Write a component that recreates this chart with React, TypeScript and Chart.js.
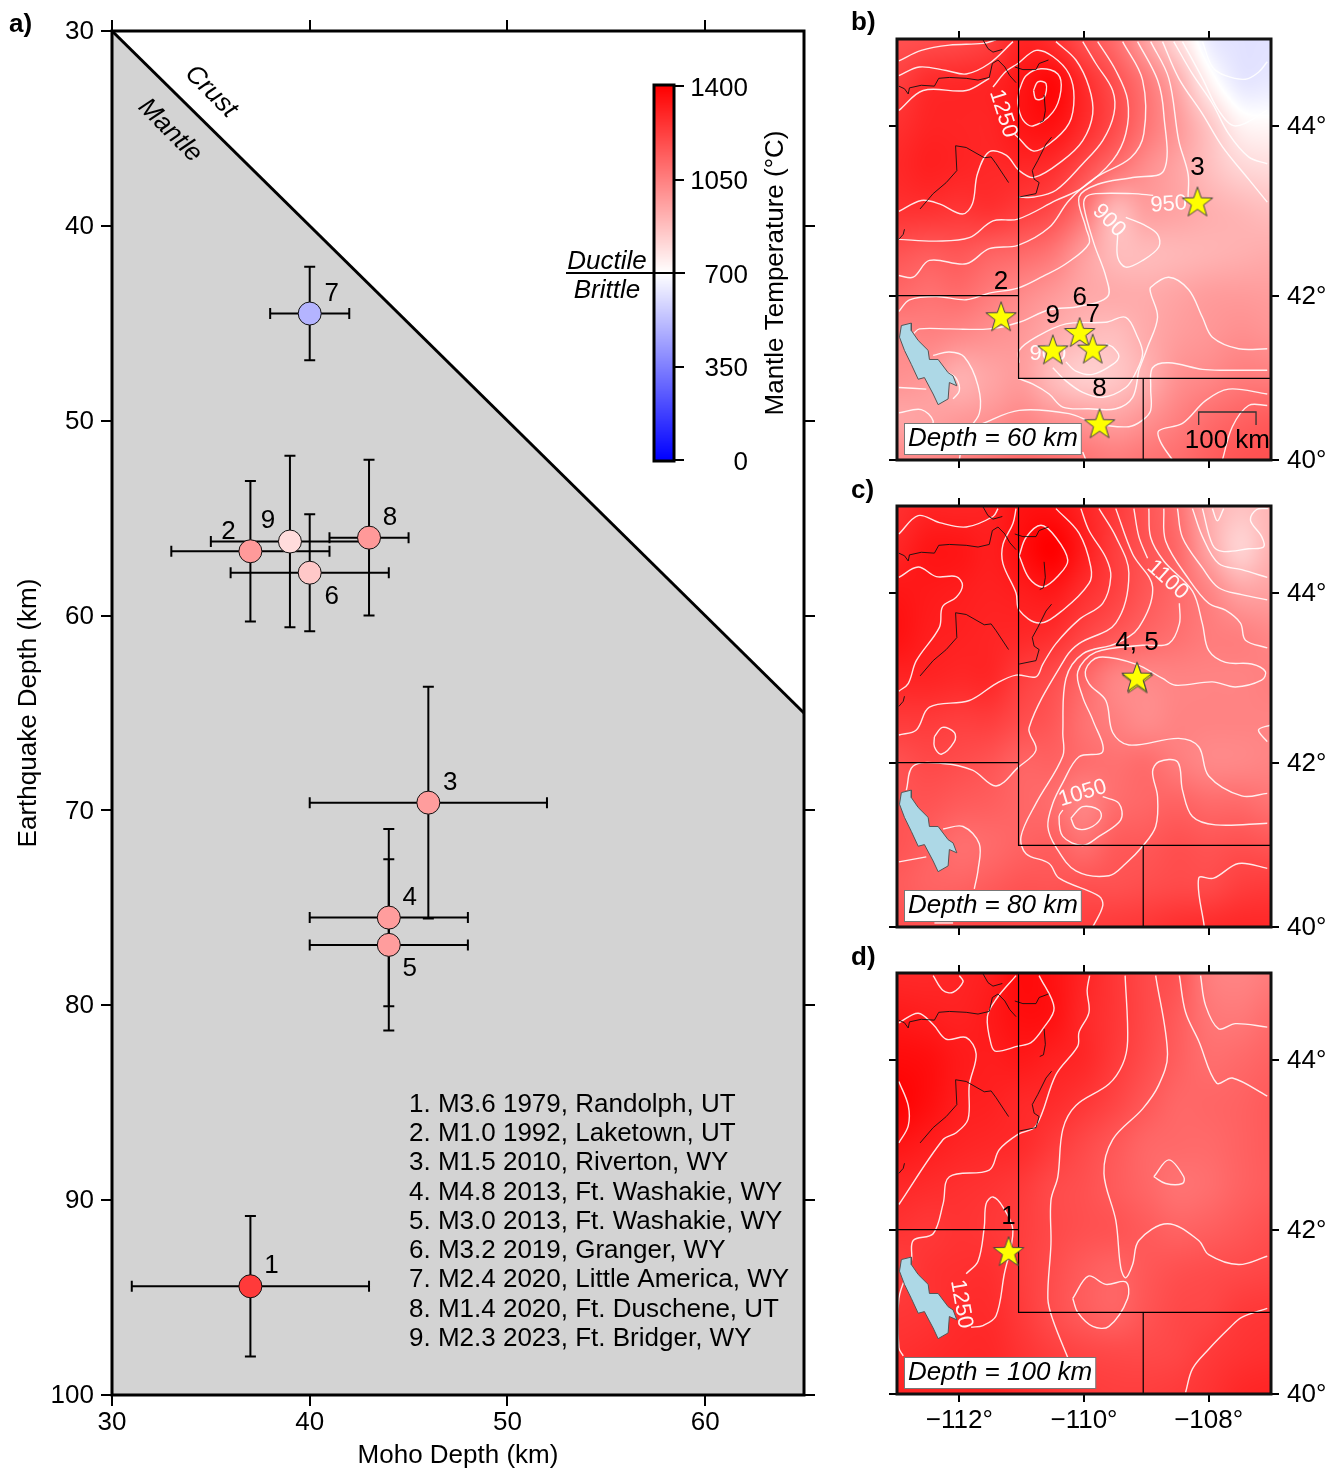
import React, { useEffect, useRef } from 'react';
import { Chart, registerables, LinearScale } from 'chart.js';

Chart.register(...registerables);
const FONT = '"Liberation Sans", Arial, sans-serif';
Chart.defaults.font.family = FONT;
Chart.defaults.color = '#000';
const FS = 26;

// ---------- Panel a data ----------
const eventIds = ['1', '2', '3', '4', '5', '6', '7', '8', '9'];
const mohoDepth = [37, 37, 46, 44, 44, 40, 40, 43, 39];
const quakeDepth = [94.42, 56.7, 69.6, 75.5, 76.9, 57.8, 44.5, 56, 56.2];
const mohoErr = [6, 4, 6, 4, 4, 4, 2, 2, 4];
const quakeErr = [3.6, 3.6, 5.95, 4.55, 4.4, 3, 2.4, 4, 4.4];
const mantleTemp = [1240, 977, 970, 970, 970, 851, 494, 980, 796];
const labelOffX = [21, -22, 22, 21, 21, 22, 22, 21, -22];
const labelOffY = [-22, -21, -21, -21, 22, 23, -21, -21, -22];
const eventList = [
  '1. M3.6 1979, Randolph, UT',
  '2. M1.0 1992, Laketown, UT',
  '3. M1.5 2010, Riverton, WY',
  '4. M4.8 2013, Ft. Washakie, WY',
  '5. M3.0 2013, Ft. Washakie, WY',
  '6. M3.2 2019, Granger, WY',
  '7. M2.4 2020, Little America, WY',
  '8. M1.4 2020, Ft. Duschene, UT',
  '9. M2.3 2023, Ft. Bridger, WY',
];
const mohoX = [30, 65];
const mohoY = [30, 65];
const cbTicks = [0, 350, 700, 1050, 1400];

// ---------- Map temperature grids (deg C), lat 45..40 (rows), lon -113..-107 (cols), 0.5 deg ----------
const heat60 = [
  [1180, 1190, 1200, 1230, 1300, 1270, 1180, 1100, 950, 800, 650, 620, 620],
  [1230, 1280, 1290, 1300, 1340, 1375, 1280, 1180, 1070, 930, 740, 640, 640],
  [1270, 1300, 1300, 1300, 1340, 1350, 1280, 1190, 1080, 980, 860, 740, 720],
  [1290, 1310, 1300, 1290, 1290, 1270, 1190, 1090, 1010, 950, 880, 820, 800],
  [1260, 1260, 1250, 1260, 1230, 1190, 1080, 900, 960, 950, 920, 900, 880],
  [1170, 1150, 1160, 1130, 1110, 1070, 970, 890, 890, 900, 910, 920, 930],
  [1110, 1090, 1100, 1060, 1020, 980, 940, 930, 930, 950, 970, 975, 970],
  [1030, 1040, 1020, 1000, 980, 930, 890, 880, 930, 970, 990, 1010, 1000],
  [1000, 980, 920, 950, 970, 890, 840, 860, 920, 1000, 1030, 1060, 1060],
  [950, 960, 980, 1000, 1030, 1000, 980, 960, 1000, 1050, 1100, 1130, 1150],
  [1020, 1030, 1050, 1080, 1110, 1100, 1080, 1060, 1080, 1100, 1140, 1170, 1180],
];
const heat80 = [
  [1270, 1300, 1300, 1310, 1350, 1350, 1300, 1240, 1170, 1090, 930, 870, 900],
  [1300, 1340, 1340, 1320, 1360, 1400, 1320, 1230, 1170, 1110, 950, 830, 910],
  [1340, 1330, 1320, 1310, 1320, 1330, 1270, 1220, 1160, 1110, 1040, 960, 960],
  [1350, 1320, 1310, 1300, 1290, 1270, 1210, 1160, 1120, 1090, 1060, 1050, 1030],
  [1300, 1300, 1290, 1290, 1230, 1190, 1120, 1040, 1030, 1040, 1040, 1040, 1050],
  [1240, 1240, 1230, 1230, 1190, 1160, 1090, 1050, 1020, 1040, 1040, 1040, 1040],
  [1180, 1200, 1190, 1170, 1130, 1130, 1100, 1090, 1100, 1060, 1030, 1030, 1040],
  [1170, 1170, 1150, 1140, 1120, 1100, 1040, 1100, 1120, 1130, 1110, 1110, 1090],
  [1170, 1140, 1100, 1110, 1130, 1140, 1100, 1150, 1160, 1180, 1170, 1180, 1170],
  [1150, 1130, 1130, 1150, 1170, 1170, 1180, 1180, 1190, 1200, 1200, 1230, 1240],
  [1180, 1180, 1200, 1210, 1210, 1220, 1230, 1240, 1250, 1270, 1280, 1290, 1290],
];
const heat100 = [
  [1290, 1290, 1300, 1320, 1370, 1350, 1300, 1250, 1200, 1170, 1060, 1040, 1060],
  [1330, 1320, 1310, 1330, 1360, 1350, 1290, 1250, 1200, 1150, 1080, 1070, 1100],
  [1370, 1360, 1330, 1320, 1330, 1310, 1290, 1240, 1190, 1140, 1100, 1110, 1130],
  [1390, 1360, 1320, 1310, 1290, 1280, 1250, 1210, 1160, 1120, 1120, 1130, 1150],
  [1340, 1320, 1300, 1290, 1280, 1240, 1200, 1160, 1120, 1110, 1110, 1130, 1150],
  [1290, 1280, 1270, 1260, 1240, 1200, 1180, 1150, 1120, 1090, 1100, 1130, 1150],
  [1260, 1250, 1260, 1250, 1230, 1200, 1180, 1170, 1150, 1130, 1140, 1160, 1180],
  [1230, 1260, 1270, 1270, 1230, 1190, 1150, 1130, 1160, 1180, 1190, 1200, 1210],
  [1250, 1260, 1280, 1280, 1240, 1190, 1150, 1130, 1170, 1200, 1210, 1240, 1250],
  [1270, 1280, 1290, 1290, 1260, 1230, 1210, 1200, 1200, 1210, 1240, 1260, 1270],
  [1300, 1300, 1300, 1300, 1280, 1260, 1240, 1230, 1230, 1240, 1260, 1290, 1300],
];

// ---------- Contours, [lon, lat] ----------
const contours60 = [
  [[-112.97,44.75],[-112.61,44.87],[-112.16,44.93],[-111.62,44.95],[-111.41,44.99]],
  [[-112.97,44.58],[-112.64,44.68],[-112.21,44.64],[-111.89,44.60],[-111.52,44.72],[-111.14,44.97]],
  [[-112.97,44.18],[-112.58,44.41],[-111.89,44.41],[-111.52,44.55]],
  [[-110.81,44.41],[-110.74,44.51],[-110.61,44.49],[-110.64,44.33],[-110.77,44.31],[-110.81,44.41]],
  [[-111.04,44.41],[-110.93,44.58],[-110.69,44.66],[-110.42,44.60],[-110.37,44.41],[-110.50,44.16],[-110.82,44],[-110.98,44.07],[-111.06,44.26],[-111.04,44.41]],
  [[-111.46,44.45],[-111.25,44.63],[-111.06,44.72],[-110.77,44.87],[-110.50,44.80],[-110.24,44.60],[-110.16,44.33],[-110.24,44.03],[-110.56,43.79],[-110.82,43.71],[-111.06,43.87],[-111.11,43.90]],
  [[-110.45,44.97],[-110.13,44.76],[-109.92,44.45],[-109.86,44.14],[-110.02,43.83],[-110.34,43.60],[-110.80,43.40],[-111.04,43.48],[-111.25,43.66],[-111.52,43.70],[-111.71,43.44],[-111.79,43.09],[-111.95,42.97],[-112.32,43.09],[-112.61,43.13],[-112.97,43.0]],
  [[-110.02,44.97],[-109.81,44.72],[-109.54,44.41],[-109.52,44.14],[-109.70,43.83],[-110.02,43.56],[-110.45,43.25],[-110.80,43.17],[-111.06,43.17]],
  [[-109.78,44.97],[-109.49,44.64],[-109.30,44.30],[-109.33,43.91],[-109.54,43.60],[-110.02,43.28],[-110.45,43.13],[-111.06,42.91],[-111.46,42.89],[-111.84,42.69],[-112.37,42.65],[-112.97,42.67]],
  [[-109.38,44.97],[-109.06,44.53],[-109.04,43.91],[-109.25,43.63],[-109.81,43.40],[-110.24,43.13],[-110.56,42.81],[-111.06,42.60],[-111.52,42.56],[-111.89,42.38],[-112.48,42.42],[-112.74,42.22],[-112.97,42.24]],
  [[-109.14,44.97],[-108.82,44.53],[-108.72,44.14],[-108.72,43.48],[-109.22,43.40],[-109.78,43.32],[-110.08,43.17],[-109.97,42.81],[-109.92,42.62],[-110.29,42.38],[-110.66,42.23],[-111.06,42.09],[-111.52,42.03],[-111.89,41.95],[-112.37,41.99],[-112.80,41.95],[-112.97,41.81]],
  [[-108.93,44.97],[-108.64,44.55],[-108.48,43.83],[-108.33,43.44],[-108.33,43.17]],
  [[-108.89,43.19],[-109.22,43.21],[-109.81,43.21],[-109.97,43.17],[-110.0,43.05],[-109.84,42.62],[-109.65,42.23],[-109.62,41.99],[-110.08,41.87],[-110.56,41.83],[-111.04,41.68],[-111.52,41.60],[-112.16,41.60],[-112.64,41.60],[-112.74,41.54]],
  [[-109.46,42.73],[-109.46,42.46],[-109.33,42.34],[-109.06,42.42],[-108.80,42.58],[-108.82,42.73],[-109.06,42.85],[-109.33,42.93]],
  [[-108.74,44.97],[-108.48,44.55],[-108.10,44.14],[-107.78,43.76],[-107.36,43.38],[-107.06,43.11]],
  [[-108.56,44.97],[-108.26,44.6],[-107.94,44.26],[-107.68,43.91],[-107.36,43.64],[-107.06,43.56]],
  [[-108.42,44.97],[-108.10,44.55],[-107.84,44.18],[-107.57,44.0],[-107.06,44.18]],
  [[-108.10,44.97],[-107.94,44.68],[-107.73,44.58],[-107.41,44.54],[-107.2,44.62],[-107.06,44.74]],
  [[-109.12,41.1],[-108.98,41.38],[-108.82,41.74],[-108.93,42.03],[-108.93,42.1],[-108.64,42.22],[-108.32,42.07],[-108.10,41.74],[-107.94,41.5],[-107.52,41.36],[-107.06,41.36]],
  [[-111.06,41.0],[-110.82,40.93],[-110.56,40.81],[-110.34,40.65],[-109.92,40.63],[-109.49,40.63],[-109.22,40.77],[-109.12,41.1]],
  [[-107.06,41.1],[-107.73,41.1],[-108.10,41.11],[-108.64,41.19],[-108.9,41.13],[-108.93,40.89],[-108.93,40.61],[-109.06,40.49],[-109.28,40.41],[-109.81,40.45],[-110.24,40.57],[-111.04,40.61],[-111.62,40.45],[-111.84,40.37],[-111.94,40.25],[-112.0,40.0]],
  [[-110.5,41.13],[-110.29,40.97],[-110.02,40.83],[-109.70,40.77],[-109.33,40.89],[-109.17,41.07],[-109.06,41.3],[-109.14,41.5],[-109.33,41.74],[-109.65,41.68],[-110.29,41.66],[-110.77,41.5],[-111.04,41.34],[-111.04,41.19]],
  [[-110.29,41.2],[-110.13,41.09],[-109.86,41.05],[-109.54,41.17],[-109.44,41.27],[-109.54,41.38],[-109.65,41.42]],
  [[-108.58,40.0],[-108.77,40.22],[-108.8,40.36],[-108.42,40.45],[-108.05,40.73],[-107.68,40.87],[-107.06,40.81]],
  [[-107.78,40.0],[-107.62,40.41],[-107.36,40.67],[-107.06,40.67]],
  [[-112.42,41.28],[-112.16,41.32],[-111.92,41.26],[-111.70,40.91],[-111.68,40.57],[-111.92,40.33]],
  [[-112.18,41.07],[-112.05,41],[-112,40.85],[-112.1,40.75]],
  [[-112.97,40.89],[-112.53,40.87]],
  [[-112.97,40.58],[-112.61,40.62],[-112.42,40.48],[-112.5,40.36]],
  [[-110.02,40.1],[-109.97,40.0]],
];
const contours80 = [
  [[-112.97,44.68],[-112.66,44.89],[-112.32,44.81],[-111.89,44.76],[-111.46,44.88],[-111.38,44.97]],
  [[-112.97,44.18],[-112.66,44.3],[-112.37,44.19],[-112.05,44.19],[-111.95,44.09],[-112.05,43.95],[-112.27,43.84],[-112.32,43.6],[-112.69,43.21],[-112.82,42.94],[-112.97,42.85]],
  [[-111.09,44.97],[-111.14,44.8],[-111.3,44.56],[-111.3,44.34],[-111.09,44.0],[-111.04,43.8],[-110.72,43.65],[-110.34,43.8],[-109.92,44.11],[-109.89,44.3],[-110.08,44.69],[-110.45,44.97]],
  [[-111.04,44.43],[-110.93,44.64],[-110.69,44.78],[-110.45,44.64],[-110.26,44.38],[-110.4,44.21],[-110.66,44.07],[-110.88,44.17],[-111.04,44.43]],
  [[-110.05,44.97],[-109.92,44.72],[-109.65,44.41],[-109.57,44.19],[-109.7,43.88],[-110.08,43.69],[-110.45,43.41],[-110.66,43.17],[-110.77,43.02],[-111.09,43.04],[-111.41,42.94],[-111.84,42.74],[-112.48,42.66],[-112.69,42.39],[-112.97,42.33]],
  [[-109.76,44.97],[-109.49,44.65],[-109.28,44.23],[-109.49,43.65],[-110.08,43.41],[-110.29,43.25],[-110.88,42.42],[-110.77,42.15],[-111.06,41.94],[-111.41,41.72],[-111.79,41.91],[-112.27,41.99],[-112.74,41.96],[-112.85,41.67]],
  [[-109.49,44.97],[-109.22,44.45],[-108.9,44.07],[-109.12,43.6],[-109.49,43.41],[-110.02,43.29],[-110.29,43.0],[-110.34,42.36],[-110.34,42.08],[-110.77,41.51],[-111.01,41.11],[-110.93,40.9],[-110.56,40.78],[-110.4,40.6],[-109.76,40.38],[-109.7,40.26],[-109.86,40.0]],
  [[-109.2,44.97],[-109.12,44.65],[-108.98,44.4]],
  [[-108.47,43.88],[-108.47,43.64],[-108.64,43.41],[-109.06,43.39],[-109.81,43.31],[-110.1,43.08],[-110.02,42.78],[-109.86,42.51],[-109.7,42.13],[-110.08,42.07],[-110.34,41.76],[-110.5,41.51],[-110.58,41.23],[-110.45,40.98],[-110.13,40.69],[-109.6,40.63],[-109.33,40.78],[-109.06,40.99],[-108.85,41.23],[-108.82,41.59],[-108.9,41.89],[-108.8,42.01],[-108.5,42.01],[-108.42,41.67],[-108.26,41.35],[-107.89,41.25],[-107.06,41.27]],
  [[-109.7,41.59],[-109.44,41.51],[-109.41,41.31],[-109.76,41.11],[-110.02,41.0],[-110.34,41.11],[-110.4,41.35],[-110.34,41.43]],
  [[-110.21,41.33],[-110.02,41.47],[-109.76,41.43],[-109.73,41.33],[-109.92,41.21],[-110.13,41.21],[-110.21,41.33]],
  [[-108.96,44.97],[-108.93,44.64],[-108.72,44.37],[-108.26,44.02],[-108.1,43.64],[-108.0,43.33],[-107.73,43.19],[-107.31,43.17],[-107.09,43.08],[-107.15,42.98],[-107.57,42.9],[-107.94,42.96],[-108.53,42.92],[-108.74,43.0],[-109.17,43.17],[-109.76,43.25],[-109.97,43.11],[-109.92,42.94],[-109.65,42.74],[-109.54,42.36],[-109.28,42.21],[-108.48,42.29],[-108.16,42.19],[-108,41.84],[-107.47,41.6],[-107.06,41.63]],
  [[-108.72,44.97],[-108.69,44.6],[-108.32,44.16],[-108,43.88],[-107.73,43.8],[-107.49,43.65],[-107.41,43.45],[-107.06,43.36]],
  [[-108.5,44.97],[-108.42,44.64],[-108.1,44.29],[-107.84,44.06],[-107.47,43.98],[-107.06,43.92]],
  [[-108.26,44.97],[-108.1,44.65],[-107.84,44.34],[-107.47,44.27],[-107.06,44.18]],
  [[-108.1,44.97],[-107.94,44.56],[-107.78,44.48],[-107.36,44.51],[-107.12,44.53],[-107.15,44.65],[-107.33,44.84],[-107.23,44.96],[-107.05,44.97]],
  [[-107.94,44.97],[-107.86,44.83],[-107.76,44.97]],
  [[-107.0,42.45],[-107.2,42.39],[-107.06,42.25]],
  [[-112.4,42.31],[-112.27,42.42],[-112.08,42.36],[-112.08,42.25],[-112.29,42.1],[-112.4,42.19],[-112.4,42.31]],
  [[-112.26,41.2],[-111.94,41.23],[-111.68,41.02],[-111.7,40.7],[-111.76,40.47]],
  [[-112.97,40.8],[-112.53,40.86]],
  [[-112.4,40.05],[-112.1,40.05]],
  [[-108.07,40.0],[-108.16,40.6],[-107.92,40.6],[-107.52,40.78],[-107.06,40.72]],
];
const contours100 = [
  [[-112.42,44.97],[-112.26,44.8],[-112.1,44.78],[-111.94,44.9],[-112,44.97]],
  [[-111.09,44.97],[-111.41,44.7],[-111.55,44.5],[-111.49,44.18],[-111.41,44.1],[-111.06,44.16],[-110.85,44.2],[-110.66,44.36],[-110.48,44.6],[-110.72,44.97]],
  [[-112.97,44.43],[-112.66,44.54],[-112.42,44.41],[-112.21,44.24],[-111.89,44.26],[-111.73,44.07],[-111.84,43.71],[-111.86,43.31],[-112.05,43.15],[-112.26,43.07],[-112.97,42.3]],
  [[-112.97,43.75],[-112.82,43.47],[-112.82,43.23],[-112.97,43.03]],
  [[-109.91,44.97],[-109.95,44.8],[-109.92,44.55],[-110.08,44.32],[-110.1,44.16],[-110.45,43.83],[-110.77,43.23],[-111.06,43.13],[-111.36,42.95],[-111.52,42.71],[-112.16,42.63],[-112.26,42.31],[-112.42,41.95],[-112.74,41.87],[-112.77,41.62],[-112.97,41.17],[-112.97,40.57],[-112.9,40.47]],
  [[-109.34,44.97],[-109.3,44.22],[-109.38,43.95],[-109.6,43.72],[-110.13,43.47],[-110.34,43.19],[-110.42,42.63],[-110.53,42.35],[-110.53,41.83],[-110.58,41.17],[-110.5,40.91],[-110.24,40.41]],
  [[-108.85,44.97],[-108.66,44.07],[-108.8,43.71],[-109.06,43.43],[-109.54,43.07],[-109.68,42.67],[-109.49,42.11],[-109.41,41.54],[-109.33,41.42],[-109.22,41.58],[-109.12,41.87],[-108.66,42.07],[-108.16,41.87],[-108,41.7],[-107.52,41.58],[-107.06,41.68]],
  [[-108.47,44.97],[-108.37,44.55],[-108.16,44.22],[-107.87,43.73],[-107.62,43.79],[-107.06,43.58]],
  [[-108.13,44.97],[-108.05,44.63],[-107.84,44.36],[-107.57,44.42],[-107.06,44.38]],
  [[-108.88,42.63],[-108.64,42.83],[-108.4,42.63],[-108.42,42.55],[-108.69,42.55],[-108.88,42.63]],
  [[-110.18,41.17],[-109.93,41.44],[-109.65,41.34],[-109.33,41.37],[-109.3,41.17],[-109.6,40.83],[-109.86,40.83],[-110.1,41.0],[-110.18,41.17]],
  [[-111.89,41.47],[-111.7,41.62],[-111.6,42.03],[-111.57,42.31],[-111.46,42.39],[-111.3,42.27],[-111.14,41.99],[-111.28,41.46],[-111.41,40.96],[-111.62,40.84],[-111.81,40.82]],
  [[-108.37,40.02],[-108.26,40.31],[-108,40.55],[-107.68,40.8],[-107.47,40.94],[-107.06,41.05]],
];

// ---------- Shared map features ----------
const stateLines = [
  [[-111.05,45],[-111.05,41],[-107,41]],
  [[-113,42],[-111.05,42]],
  [[-109.05,41],[-109.05,40]],
];
const rivers = [
  [[-111.62,44.99],[-111.54,44.89],[-111.46,44.85],[-111.31,44.88]],
  [[-112.97,44.46],[-112.88,44.43],[-112.82,44.37],[-112.8,44.44],[-112.61,44.47],[-112.4,44.46],[-112.33,44.55],[-112.16,44.56],[-111.89,44.55],[-111.7,44.53],[-111.52,44.56],[-111.47,44.72],[-111.38,44.76],[-111.27,44.68],[-111.19,44.58],[-111.09,44.5]],
  [[-111.11,44.68],[-110.98,44.65],[-110.77,44.65],[-110.72,44.72],[-110.57,44.76]],
  [[-110.64,44.36],[-110.62,44.18],[-110.65,44.06],[-110.71,44.04]],
  [[-110.52,43.87],[-110.61,43.79],[-110.74,43.6],[-110.83,43.48],[-110.8,43.38],[-110.72,43.34],[-110.77,43.21],[-111.04,43.17]],
  [[-111.21,43.34],[-111.41,43.56],[-111.49,43.64],[-111.6,43.63],[-111.89,43.75],[-112.06,43.77],[-112.04,43.48],[-112.21,43.34],[-112.42,43.21],[-112.63,43.03]],
  [[-112.88,42.79],[-112.9,42.73],[-112.97,42.67]],
];
const lake = [[-112.93,41.64],[-112.77,41.67],[-112.77,41.58],[-112.66,41.46],[-112.5,41.34],[-112.48,41.23],[-112.34,41.23],[-112.18,41.07],[-112.1,41.03],[-112.04,40.91],[-112.16,40.95],[-112.18,40.75],[-112.34,40.68],[-112.42,40.81],[-112.56,41.01],[-112.66,40.99],[-112.77,41.17],[-112.88,41.34],[-112.96,41.5],[-112.93,41.64]];

const stars60 = [[-108.18,43.106,'3'],[-111.33,41.74,'2'],[-110.5,41.34,'9'],[-110.07,41.55,'6'],[-109.86,41.35,'7'],[-109.75,40.44,'8']];
const stars80 = [[-109.14,42.99,''],[-109.15,43.01,'4, 5']];
const stars100 = [[-111.21,41.73,'1']];
const labels60 = [[-111.30,44.16,'1250',72],[-108.64,43.10,'950',-4],[-109.6,42.91,'900',45],[-110.58,41.31,'900',0]];
const labels80 = [[-108.66,44.17,'1100',42],[-110.02,41.65,'1050',-17]];
const labels100 = [[-111.97,41.12,'1250',80]];
const lonTicks = [-112, -110, -108];
const latTicks = [40, 42, 44];

// ---------- Helpers ----------
function tempColor(t: number) {
  const c = Math.max(0, Math.min(1400, t));
  if (c >= 700) { const g = 255 * (1400 - c) / 700; return [255, g, g]; }
  const g = 255 * c / 700; return [g, g, 255];
}
const cssTemp = (t: number) => { const [r, g, b] = tempColor(t); return `rgb(${r},${g},${b})`; };
const merc = (lat: number) => Math.log(Math.tan(Math.PI / 4 + (lat * Math.PI) / 360));
const imerc = (m: number) => ((Math.atan(Math.exp(m)) - Math.PI / 4) * 360) / Math.PI;

class MercatorScale extends (LinearScale as any) {
  static id = 'mercator';
  static defaults = LinearScale.defaults;
  getPixelForValue(v: number) {
    const a = merc(this.min), b = merc(this.max);
    return this.bottom + ((this.top - this.bottom) * (merc(v) - a)) / (b - a);
  }
  getValueForPixel(p: number) {
    const a = merc(this.min), b = merc(this.max);
    return imerc(a + ((b - a) * (p - this.bottom)) / (this.top - this.bottom));
  }
}
Chart.register(MercatorScale as any);

function txt(ctx: any, s: string, x: number, y: number, o: any = {}) {
  ctx.save();
  ctx.font = `${o.style || ''} ${o.size || FS}px ${FONT}`;
  ctx.fillStyle = o.color || '#000';
  ctx.textAlign = o.align || 'center';
  ctx.textBaseline = 'middle';
  ctx.translate(x, y + 1.5);
  if (o.rot) ctx.rotate((o.rot * Math.PI) / 180);
  ctx.fillText(s, 0, 0);
  ctx.restore();
}
function cr(p0: number, p1: number, p2: number, p3: number, t: number) {
  return 0.5 * (2 * p1 + (p2 - p0) * t + (2 * p0 - 5 * p1 + 4 * p2 - p3) * t * t + (3 * p1 - p0 - 3 * p2 + p3) * t * t * t);
}
function sampleGrid(g: number[][], lon: number, lat: number) {
  const fx = (lon + 113) / 0.5, fy = (45 - lat) / 0.5;
  const ix = Math.max(0, Math.min(11, Math.floor(fx))), iy = Math.max(0, Math.min(9, Math.floor(fy)));
  const tx = fx - ix, ty = fy - iy;
  const row = (r: number) => {
    const R = g[Math.max(0, Math.min(10, r))];
    return cr(R[Math.max(0, ix - 1)], R[ix], R[ix + 1], R[Math.min(12, ix + 2)], tx);
  };
  return cr(row(iy - 1), row(iy), row(iy + 1), row(iy + 2), ty);
}
function fixedTicks(vals: number[]) {
  return (s: any) => { s.ticks = vals.map((value) => ({ value })); };
}
const tickGrid = (len: number) => ({ drawOnChartArea: false, drawTicks: true, tickLength: len, tickColor: '#000', tickWidth: 2, color: '#000', lineWidth: 2 });
const baseOpts = { responsive: false, animation: false as const, events: [] as string[], layout: { padding: 0 }, plugins: { legend: { display: false }, tooltip: { enabled: false }, title: { display: false } } };

function makeStar() {
  const c = document.createElement('canvas');
  c.width = 34; c.height = 34;
  const x = c.getContext('2d')!;
  x.beginPath();
  for (let i = 0; i < 10; i++) {
    const r = i % 2 ? 6.4 : 16;
    const a = -Math.PI / 2 + (i * Math.PI) / 5;
    const px = 17 + r * Math.cos(a), py = 17.5 + r * Math.sin(a);
    i ? x.lineTo(px, py) : x.moveTo(px, py);
  }
  x.closePath();
  x.fillStyle = '#ffff00'; x.fill();
  x.strokeStyle = '#444'; x.lineWidth = 1; x.stroke();
  return c;
}
const lineDs = (pts: number[][], color: string, width: number, tension = 0) => ({
  showLine: true, data: pts.map(([x, y]) => ({ x, y })), borderColor: color, borderWidth: width, pointRadius: 0, tension, fill: false,
});

function makeMap(canvas: HTMLCanvasElement, cfg: any) {
  const star = makeStar();
  const heatPlugin = {
    id: 'heat',
    beforeDatasetsDraw(chart: any) {
      const { chartArea: a, ctx, scales } = chart;
      const w = Math.round(a.right - a.left), h = Math.round(a.bottom - a.top);
      const off = document.createElement('canvas');
      off.width = w; off.height = h;
      const o = off.getContext('2d')!;
      const img = o.createImageData(w, h);
      for (let j = 0; j < h; j++) {
        const lat = scales.y.getValueForPixel(a.top + j + 0.5);
        for (let i = 0; i < w; i++) {
          const lon = scales.x.getValueForPixel(a.left + i + 0.5);
          const [r, g, b] = tempColor(sampleGrid(cfg.heat, lon, lat));
          const k = (j * w + i) * 4;
          img.data[k] = r; img.data[k + 1] = g; img.data[k + 2] = b; img.data[k + 3] = 255;
        }
      }
      o.putImageData(img, 0, 0);
      ctx.drawImage(off, a.left, a.top);
    },
    beforeDatasetDraw(chart: any, args: any) {
      if (args.index !== 0) return;
      const { ctx, scales } = chart;
      cfg.labels.forEach(([lon, lat, s, rot]: any) => {
        txt(ctx, s, scales.x.getPixelForValue(lon), scales.y.getPixelForValue(lat), { size: 22, color: 'rgba(255,255,255,0.95)', rot });
      });
    },
    afterDatasetsDraw(chart: any) {
      const { ctx, scales, chartArea: a } = chart;
      cfg.stars.forEach(([lon, lat, s]: any) => {
        if (s) txt(ctx, s, scales.x.getPixelForValue(lon), scales.y.getPixelForValue(lat) - 36.5);
      });
      ctx.save();
      ctx.font = `italic ${FS}px ${FONT}`;
      const tw = ctx.measureText(cfg.depth).width;
      ctx.fillStyle = '#fff'; ctx.strokeStyle = '#777'; ctx.lineWidth = 1;
      const bx = a.left + 7.5, by = a.bottom - 36.5;
      ctx.fillRect(bx, by, tw + 7, 31);
      ctx.strokeRect(bx, by, tw + 7, 31);
      ctx.restore();
      txt(ctx, cfg.depth, a.left + 11, a.bottom - 23, { style: 'italic', align: 'left' });
      if (cfg.scaleBar) {
        const x0 = scales.x.getPixelForValue(-108.16), x1 = scales.x.getPixelForValue(-107.24);
        ctx.save();
        ctx.strokeStyle = '#333'; ctx.lineWidth = 1.3;
        ctx.beginPath();
        ctx.moveTo(x0, a.bottom - 35); ctx.lineTo(x0, a.bottom - 48); ctx.lineTo(x1, a.bottom - 48); ctx.lineTo(x1, a.bottom - 35);
        ctx.stroke();
        ctx.restore();
        txt(ctx, '100 km', (x0 + x1) / 2, a.bottom - 21);
      }
    },
    afterDraw(chart: any) {
      const { ctx, chartArea: a } = chart;
      ctx.save();
      ctx.strokeStyle = '#111'; ctx.lineWidth = 3;
      ctx.strokeRect(a.left, a.top, a.right - a.left, a.bottom - a.top);
      ctx.restore();
      txt(ctx, cfg.panel, 6, cfg.panelY, { style: 'bold', align: 'left' });
    },
  };
  const datasets: any[] = [
    { showLine: false, data: cfg.stars.map(([x, y]: any) => ({ x, y })), pointStyle: star, pointRadius: 16, backgroundColor: '#ffff00' },
    { ...lineDs(lake, '#555', 1), fill: 'shape', backgroundColor: '#add8e6' },
    ...stateLines.map((l) => lineDs(l, '#000', 1.2)),
    ...rivers.map((l) => lineDs(l, '#111', 0.9)),
    ...cfg.contours.map((l: number[][]) => lineDs(l, 'rgba(255,255,255,0.88)', 1.4, 0.35)),
  ];
  return new Chart(canvas, {
    type: 'scatter',
    data: { datasets },
    plugins: [heatPlugin],
    options: {
      ...baseOpts,
      scales: {
        x: { type: 'linear', position: 'bottom', min: -113, max: -107, grid: tickGrid(8), border: { display: false }, afterBuildTicks: fixedTicks(lonTicks),
          ticks: { display: cfg.showLon, autoSkip: false, maxRotation: 0, font: { size: FS }, padding: 3, callback: (v: number) => `\u2212${Math.abs(v)}\u00b0` },
          afterFit: (s: any) => { s.height = cfg.bottomH; } },
        x2: { type: 'linear', position: 'top', min: -113, max: -107, grid: tickGrid(8), border: { display: false }, afterBuildTicks: fixedTicks(lonTicks),
          ticks: { display: false }, afterFit: (s: any) => { s.height = cfg.topH; } },
        y: { type: 'mercator', position: 'left', min: 40, max: 45, grid: tickGrid(8), border: { display: false }, afterBuildTicks: fixedTicks(latTicks),
          ticks: { display: false }, afterFit: (s: any) => { s.width = 52; } },
        y2: { type: 'mercator', position: 'right', min: 40, max: 45, grid: tickGrid(8), border: { display: false }, afterBuildTicks: fixedTicks(latTicks),
          ticks: { autoSkip: false, font: { size: FS }, padding: 8, labelOffset: 1, callback: (v: number) => `${v}\u00b0` },
          afterFit: (s: any) => { s.width = 69; } },
      },
    } as any,
  } as any);
}

function makeMain(canvas: HTMLCanvasElement) {
  const plugin = {
    id: 'mainExtras',
    beforeDatasetDraw(chart: any, args: any) {
      if (args.index !== 0) return;
      const { ctx, scales: { x, y } } = chart;
      ctx.save();
      ctx.strokeStyle = '#000'; ctx.lineWidth = 2;
      eventIds.forEach((_, i) => {
        const px = x.getPixelForValue(mohoDepth[i]), py = y.getPixelForValue(quakeDepth[i]);
        const x0 = x.getPixelForValue(mohoDepth[i] - mohoErr[i]), x1 = x.getPixelForValue(mohoDepth[i] + mohoErr[i]);
        const y0 = y.getPixelForValue(quakeDepth[i] - quakeErr[i]), y1 = y.getPixelForValue(quakeDepth[i] + quakeErr[i]);
        ctx.beginPath();
        ctx.moveTo(x0, py); ctx.lineTo(x1, py);
        ctx.moveTo(px, y0); ctx.lineTo(px, y1);
        ctx.moveTo(x0, py - 5.5); ctx.lineTo(x0, py + 5.5);
        ctx.moveTo(x1, py - 5.5); ctx.lineTo(x1, py + 5.5);
        ctx.moveTo(px - 5.5, y0); ctx.lineTo(px + 5.5, y0);
        ctx.moveTo(px - 5.5, y1); ctx.lineTo(px + 5.5, y1);
        ctx.stroke();
      });
      ctx.restore();
    },
    afterDatasetsDraw(chart: any) {
      const { ctx, scales: { x, y } } = chart;
      eventIds.forEach((id, i) => {
        txt(ctx, id, x.getPixelForValue(mohoDepth[i]) + labelOffX[i], y.getPixelForValue(quakeDepth[i]) + labelOffY[i]);
      });
      eventList.forEach((s, i) => txt(ctx, s, 409, 1103.3 + i * 29.25, { align: 'left' }));
      txt(ctx, 'Crust', 211, 90, { style: 'italic', rot: 45 });
      txt(ctx, 'Mantle', 170, 129, { style: 'italic', rot: 45 });
    },
    afterDraw(chart: any) {
      const { ctx, chartArea: a } = chart;
      ctx.save();
      ctx.strokeStyle = '#000'; ctx.lineWidth = 3;
      ctx.strokeRect(a.left, a.top, a.right - a.left, a.bottom - a.top);
      ctx.restore();
      txt(ctx, 'a)', 9, 23, { style: 'bold', align: 'left' });
    },
  };
  return new Chart(canvas, {
    type: 'scatter',
    data: {
      datasets: [
        { showLine: false, data: mohoDepth.map((v, i) => ({ x: v, y: quakeDepth[i] })), pointRadius: 11.5, pointBorderWidth: 1, pointBorderColor: '#111', pointBackgroundColor: mantleTemp.map(cssTemp) },
        { showLine: true, data: mohoX.map((v, i) => ({ x: v, y: mohoY[i] })), borderColor: '#000', borderWidth: 3, pointRadius: 0, fill: { value: 100 }, backgroundColor: '#d3d3d3' },
      ],
    },
    plugins: [plugin],
    options: {
      ...baseOpts,
      scales: {
        x: { type: 'linear', position: 'bottom', min: 30, max: 65, grid: tickGrid(11), border: { display: false }, afterBuildTicks: fixedTicks([30, 40, 50, 60]),
          ticks: { autoSkip: false, maxRotation: 0, font: { size: FS }, padding: 1, callback: (v: number) => String(v) },
          title: { display: true, text: 'Moho Depth (km)', font: { size: FS }, padding: { top: 0, bottom: -1.5 } },
          afterFit: (s: any) => { s.height = 75; } },
        x2: { type: 'linear', position: 'top', min: 30, max: 65, grid: tickGrid(11), border: { display: false }, afterBuildTicks: fixedTicks([30, 40, 50, 60]),
          ticks: { display: false }, afterFit: (s: any) => { s.height = 31; } },
        y: { type: 'linear', position: 'left', reverse: true, min: 30, max: 100, grid: tickGrid(11), border: { display: false }, afterBuildTicks: fixedTicks([30, 40, 50, 60, 70, 80, 90, 100]),
          ticks: { autoSkip: false, font: { size: FS }, padding: 7, labelOffset: 1, callback: (v: number) => String(v) },
          title: { display: true, text: 'Earthquake Depth (km)', font: { size: FS }, padding: { top: 13, bottom: 0 } },
          afterFit: (s: any) => { s.width = 112; } },
        y2: { type: 'linear', position: 'right', reverse: true, min: 30, max: 100, grid: tickGrid(11), border: { display: false }, afterBuildTicks: fixedTicks([40, 50, 60, 70, 80, 90, 100]),
          ticks: { display: false }, afterFit: (s: any) => { s.width = 26; } },
      },
    } as any,
  } as any);
}

function makeColorbar(canvas: HTMLCanvasElement) {
  const plugin = {
    id: 'cb',
    beforeDatasetsDraw(chart: any) {
      const { ctx, chartArea: a, scales } = chart;
      for (let p = Math.floor(a.top); p < a.bottom; p++) {
        ctx.fillStyle = cssTemp(scales.y.getValueForPixel(p + 0.5));
        ctx.fillRect(a.left, p, a.right - a.left, 1);
      }
    },
    afterDraw(chart: any) {
      const { ctx, chartArea: a, scales } = chart;
      ctx.save();
      ctx.strokeStyle = '#000'; ctx.lineWidth = 3;
      ctx.strokeRect(a.left - 1, a.top - 1, a.right - a.left + 2, a.bottom - a.top + 2);
      const y700 = scales.y.getPixelForValue(700);
      ctx.lineWidth = 2;
      ctx.beginPath(); ctx.moveTo(a.left - 89, y700); ctx.lineTo(a.right + 12, y700); ctx.stroke();
      ctx.restore();
      txt(ctx, 'Ductile', a.left - 48, y700 - 13, { style: 'italic' });
      txt(ctx, 'Brittle', a.left - 48, y700 + 16, { style: 'italic' });
      txt(ctx, 'Mantle Temperature (\u00b0C)', a.right + 103, y700 - 1.5, { rot: -90 });
    },
  };
  return new Chart(canvas, {
    type: 'scatter',
    data: { datasets: [] },
    plugins: [plugin],
    options: {
      ...baseOpts,
      layout: { padding: { left: 100, top: 26, bottom: 30, right: 52 } },
      scales: {
        x: { display: false, type: 'linear', min: 0, max: 1 },
        y: { type: 'linear', position: 'right', min: 0, max: 1400, grid: tickGrid(11), border: { display: false }, afterBuildTicks: fixedTicks(cbTicks),
          ticks: { autoSkip: false, crossAlign: 'far', font: { size: FS }, padding: 9, labelOffset: 2.5, callback: (v: number) => String(v) },
          afterFit: (s: any) => { s.width = 75; } },
      },
    } as any,
  } as any);
}

const abs = (left: number, top: number): React.CSSProperties => ({ position: 'absolute', left, top, display: 'block' });

export default function App() {
  const main = useRef<HTMLCanvasElement>(null);
  const cb = useRef<HTMLCanvasElement>(null);
  const b = useRef<HTMLCanvasElement>(null);
  const c = useRef<HTMLCanvasElement>(null);
  const d = useRef<HTMLCanvasElement>(null);
  useEffect(() => {
    const charts = [
      makeMain(main.current!),
      makeColorbar(cb.current!),
      makeMap(b.current!, { heat: heat60, contours: contours60, stars: stars60, labels: labels60, depth: 'Depth = 60 km', panel: 'b)', panelY: 21, topH: 39, bottomH: 30, showLon: false, scaleBar: true }),
      makeMap(c.current!, { heat: heat80, contours: contours80, stars: stars80, labels: labels80, depth: 'Depth = 80 km', panel: 'c)', panelY: 19, topH: 36, bottomH: 30, showLon: false }),
      makeMap(d.current!, { heat: heat100, contours: contours100, stars: stars100, labels: labels100, depth: 'Depth = 100 km', panel: 'd)', panelY: 21, topH: 38, bottomH: 76, showLon: true }),
    ];
    return () => charts.forEach((ch) => ch.destroy());
  }, []);
  return (
    <div style={{ position: 'absolute', left: 0, top: 0, width: 1340, height: 1470, background: '#fff', overflow: 'hidden' }}>
      <canvas ref={main} width={830} height={1470} style={abs(0, 0)} />
      <canvas ref={cb} width={245} height={430} style={abs(555, 60)} />
      <canvas ref={b} width={495} height={490} style={abs(845, 0)} />
      <canvas ref={c} width={495} height={487} style={abs(845, 470)} />
      <canvas ref={d} width={495} height={535} style={abs(845, 935)} />
    </div>
  );
}
